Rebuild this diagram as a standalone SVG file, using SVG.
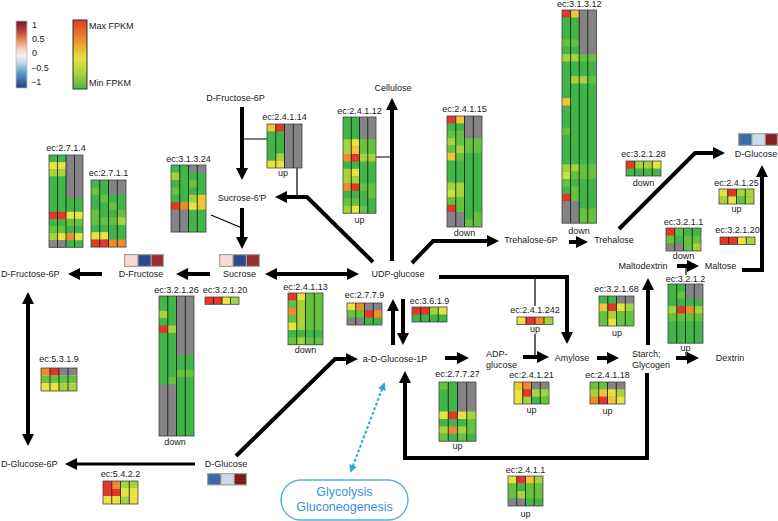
<svg xmlns="http://www.w3.org/2000/svg" width="778" height="521" viewBox="0 0 778 521">
<defs>
<linearGradient id="div" x1="0" y1="0" x2="0" y2="1">
<stop offset="0" stop-color="#6b1a20"/><stop offset="0.12" stop-color="#b2323a"/><stop offset="0.27" stop-color="#e3844d"/><stop offset="0.42" stop-color="#f6cfbf"/><stop offset="0.52" stop-color="#f4f1f0"/><stop offset="0.62" stop-color="#c6dbe9"/><stop offset="0.77" stop-color="#5f9bc8"/><stop offset="1" stop-color="#263f80"/>
</linearGradient>
<linearGradient id="fpkm" x1="0" y1="0" x2="0" y2="1">
<stop offset="0" stop-color="#e63b29"/><stop offset="0.28" stop-color="#f08a2b"/><stop offset="0.55" stop-color="#eade3c"/><stop offset="0.78" stop-color="#a9d33b"/><stop offset="1" stop-color="#45b64a"/>
</linearGradient>
<marker id="ah" viewBox="0 0 12 12" markerWidth="12" markerHeight="12" markerUnits="userSpaceOnUse" refX="3" refY="6" orient="auto-start-reverse"><path d="M0,0 L12,6 L0,12 z" fill="#000"/></marker>
<marker id="ab" viewBox="0 0 8 8" markerWidth="8" markerHeight="8" markerUnits="userSpaceOnUse" refX="6" refY="4" orient="auto-start-reverse"><path d="M0,0 L8,4 L0,8 z" fill="#2aa7df"/></marker>
</defs>
<style>
text{font-family:"Liberation Sans",Arial,sans-serif;font-size:9px;fill:#1a1a1a}
.m{text-anchor:middle}
.g{fill:#41b549}.g2{fill:#66c23e}.yg{fill:#a8d23b}.yl{fill:#cde03c}.y{fill:#e9e33f}.yo{fill:#f3c436}.o{fill:#f08a2b}.r{fill:#e5362a}.x{fill:#858385}
.sep{stroke:#111;stroke-width:0.8;fill:none}
.bd{fill:none;stroke:#444;stroke-width:0.8}
.a{fill:none;stroke:#000;stroke-width:4;marker-end:url(#ah)}
.a2{marker-start:url(#ah)}
.thin{fill:none;stroke:#000;stroke-width:1.2}
.mb{fill:#a3a3a3}
</style>

<g id="legend">
<rect x="16" y="21" width="11" height="67" fill="url(#div)" stroke="#bbb" stroke-width="0.8"/>
<text x="32" y="28.3">1</text>
<text x="32" y="42.3">0.5</text>
<text x="32" y="56.3">0</text>
<text x="31" y="71.3">−0.5</text>
<text x="31" y="85.3">−1</text>
<rect x="73" y="20" width="14" height="69" fill="url(#fpkm)" stroke="#333" stroke-width="1"/>
<text x="89" y="29">Max FPKM</text>
<text x="89" y="86">Min FPKM</text>
</g>

<g id="connectors">
<path class="a" d="M102,274 L77,274"/>
<path class="a" d="M210,274 L185,274"/>
<path class="a a2" d="M274,274 L350,274"/>
<path class="a" d="M392,261 L392,107"/>
<path class="a" d="M373,262 L307,197 L284,197"/>
<path class="a" d="M242,107 L242,171"/>
<path class="a" d="M242,208 L242,240"/>
<path class="a" d="M412,263 L433,241 L490,241"/>
<path class="a" d="M569,242 L579,242"/>
<path class="a" d="M619,229 L695,153 L716,153"/>
<path class="a" d="M439,277 L567,277 L567,335"/>
<path class="a" d="M523,357 L540,357"/>
<path class="a" d="M597,358 L610,358"/>
<path class="a" d="M648,345 L648,287"/>
<path class="a" d="M677,266 L690,266"/>
<path class="a" d="M676,358 L690,358"/>
<path class="a" d="M742,270 L762,270 L762,174"/>
<path class="a" d="M647,373 L647,458 L405,458 L405,380"/>
<path class="a" d="M236,456 L335,359 L349,359"/>
<path class="a" d="M393,345 L393,308"/>
<path class="a" d="M403,299 L403,336"/>
<path class="a" d="M445,358 L460,358"/>
<path class="a" style="stroke-width:3" d="M195,464 L74,464"/>
<path class="a a2" d="M28,301 L28,437"/>
<path class="thin" d="M242,139 H267 M297,168 V197 M376,157 H392 M211,215 L242,228 M535,277 V306 M535,334 V357 M686,266 V275 M686,352 V358"/>
<path d="M351,471 L384,384" fill="none" stroke="#2aa7df" stroke-width="2" stroke-dasharray="3,2" marker-start="url(#ab)" marker-end="url(#ab)"/>
</g>

<g id="n-fru6p-left"><text x="1" y="277">D-Fructose-6P</text></g>
<g id="n-fructose"><text class="m" x="141" y="277">D-Fructose</text>
<rect class="mb" x="124" y="254" width="40" height="13"/><rect x="125.2" y="255.2" width="12.1" height="10.6" fill="#f8d9ce"/><rect x="138.5" y="255.2" width="12.1" height="10.6" fill="#2e4a8a"/><rect x="151.8" y="255.2" width="11" height="10.6" fill="#9b2a30"/></g>
<g id="n-sucrose"><text class="m" x="239.5" y="277">Sucrose</text>
<rect class="mb" x="219" y="254" width="41" height="13"/><rect x="220.2" y="255.2" width="12.2" height="10.6" fill="#fad8cf"/><rect x="233.6" y="255.2" width="12.2" height="10.6" fill="#2c4a8a"/><rect x="247" y="255.2" width="11.8" height="10.6" fill="#9a2a31"/></g>
<g id="n-udpglucose"><text class="m" x="398" y="277">UDP-glucose</text></g>
<g id="n-sucrose6p"><text class="m" x="242" y="201">Sucrose-6'P</text></g>
<g id="n-fru6p-top"><text class="m" x="235.5" y="101">D-Fructose-6P</text></g>
<g id="n-cellulose"><text class="m" x="393" y="91">Cellulose</text></g>
<g id="n-trehalose6p"><text class="m" x="531" y="243">Trehalose-6P</text></g>
<g id="n-trehalose"><text class="m" x="614" y="243">Trehalose</text></g>
<g id="n-dglucose-right"><text class="m" x="756" y="157">D-Glucose</text>
<rect class="mb" x="738" y="133" width="40" height="13"/><rect x="739.2" y="134.2" width="12.1" height="10.6" fill="#3b6ba8"/><rect x="752.5" y="134.2" width="12.1" height="10.6" fill="#c9dcea"/><rect x="765.8" y="134.2" width="11" height="10.6" fill="#8a1d24"/></g>
<g id="n-maltodextrin"><text class="m" x="643" y="269">Maltodextrin</text></g>
<g id="n-maltose"><text class="m" x="720.5" y="269">Maltose</text></g>
<g id="n-starch"><text x="632" y="357">Starch;</text><text x="632" y="368">Glycogen</text></g>
<g id="n-dextrin"><text class="m" x="730" y="361">Dextrin</text></g>
<g id="n-amylose"><text class="m" x="572" y="361">Amylose</text></g>
<g id="n-adpglucose"><text x="486" y="357">ADP-</text><text x="486" y="368">glucose</text></g>
<g id="n-glucose1p"><text class="m" x="395" y="362">a-D-Glucose-1P</text></g>
<g id="n-dglucose-bottom"><text class="m" x="226" y="467">D-Glucose</text>
<rect class="mb" x="207" y="473" width="40" height="12.5"/><rect x="208.2" y="474.2" width="12.1" height="10.1" fill="#3a69a7"/><rect x="221.5" y="474.2" width="12.1" height="10.1" fill="#cadcea"/><rect x="234.8" y="474.2" width="11" height="10.1" fill="#7b1b20"/></g>
<g id="n-glc6p"><text x="1" y="467">D-Glucose-6P</text></g>
<g id="n-glycolysis">
<rect x="281" y="480" width="127" height="40" rx="20" fill="#fff" stroke="#5aaee6" stroke-width="1.4"/>
<text class="m" x="344.5" y="496" style="font-size:12.5px;fill:#3d8fd8">Glycolysis</text>
<text class="m" x="344.5" y="511" style="font-size:12.5px;fill:#3d8fd8">Gluconeogenesis</text>
</g>

<g id="ec-2-7-1-4"><text class="m" x="66" y="151">ec:2.7.1.4</text>
<rect class="g" x="49" y="155" width="34" height="92.3"/>
<rect class="y" x="49" y="162.1" width="17" height="7.1"/>
<rect class="yg" x="49" y="169.2" width="17" height="7.1"/>
<rect class="r" x="49" y="211.8" width="17" height="7.1"/>
<rect class="g2" x="49" y="226" width="17" height="7.1"/>
<rect class="yg" x="49" y="233.1" width="8.5" height="7.1"/>
<rect class="y" x="57.5" y="233.1" width="8.5" height="7.1"/>
<rect class="x" x="49" y="240.2" width="17" height="7.1"/>
<rect class="x" x="66" y="155" width="17" height="42.6"/>
<rect class="y" x="66" y="211.8" width="17" height="7.1"/>
<rect class="g2" x="66" y="218.9" width="17" height="7.1"/>
<rect class="o" x="66" y="233.1" width="8.5" height="7.1"/>
<rect class="y" x="74.5" y="233.1" width="8.5" height="7.1"/>
<path class="sep" d="M57.5,155v92.3M66,155v92.3M74.5,155v92.3"/>
<rect class="bd" x="49" y="155" width="34" height="92.3"/></g>

<g id="ec-2-7-1-1"><text class="m" x="108.5" y="176">ec:2.7.1.1</text>
<rect class="g" x="91" y="180" width="35" height="67.05"/>
<rect class="g2" x="91" y="187.45" width="8.75" height="7.45"/>
<rect class="g2" x="91" y="209.8" width="8.75" height="7.45"/>
<rect class="g2" x="91" y="217.25" width="35" height="7.45"/>
<rect class="g2" x="99.75" y="194.9" width="8.75" height="7.45"/>
<rect class="y" x="91" y="232.15" width="17.5" height="7.45"/>
<rect class="r" x="91" y="239.6" width="17.5" height="7.45"/>
<rect class="x" x="108.5" y="180" width="17.5" height="14.9"/>
<rect class="g2" x="108.5" y="202.35" width="8.75" height="7.45"/>
<rect class="g2" x="117.25" y="209.8" width="8.75" height="7.45"/>
<rect class="yg" x="117.25" y="217.25" width="8.75" height="7.45"/>
<rect class="o" x="108.5" y="239.6" width="17.5" height="7.45"/>
<path class="sep" d="M99.75,180v67.05M108.5,180v67.05M117.25,180v67.05"/>
<rect class="bd" x="91" y="180" width="35" height="67.05"/></g>

<g id="ec-3-1-3-24"><text class="m" x="188.5" y="162">ec:3.1.3.24</text>
<rect class="g" x="171" y="165" width="35" height="67.05"/>
<rect class="yg" x="171" y="172.45" width="8.75" height="7.45"/>
<rect class="g2" x="171" y="187.35" width="8.75" height="7.45"/>
<rect class="r" x="171" y="202.25" width="8.75" height="7.45"/>
<rect class="o" x="179.75" y="202.25" width="8.75" height="7.45"/>
<rect class="x" x="171" y="209.7" width="17.5" height="22.35"/>
<rect class="x" x="188.5" y="165" width="17.5" height="7.45"/>
<rect class="g2" x="188.5" y="179.9" width="8.75" height="7.45"/>
<rect class="yg" x="188.5" y="194.8" width="8.75" height="7.45"/>
<rect class="y" x="188.5" y="202.25" width="8.75" height="7.45"/>
<rect class="yo" x="197.25" y="194.8" width="8.75" height="14.9"/>
<path class="sep" d="M179.75,165v67.05M188.5,165v67.05M197.25,165v67.05"/>
<rect class="bd" x="171" y="165" width="35" height="67.05"/></g>

<g id="ec-2-4-1-14"><text class="m" x="284.5" y="120">ec:2.4.1.14</text>
<rect class="g" x="267" y="124" width="35" height="44"/>
<rect class="yo" x="267" y="124" width="8.75" height="7.33"/>
<rect class="r" x="275.75" y="124" width="8.75" height="7.33"/>
<rect class="yg" x="275.75" y="153.33" width="8.75" height="7.33"/>
<rect class="y" x="267" y="160.67" width="17.5" height="7.33"/>
<rect class="x" x="284.5" y="124" width="17.5" height="44"/>
<path class="sep" d="M275.75,124v44M284.5,124v44M293.25,124v44"/>
<rect class="bd" x="267" y="124" width="35" height="44"/>
<text class="m" x="283" y="176">up</text></g>

<g id="ec-2-4-1-12"><text class="m" x="359.5" y="114">ec:2.4.1.12</text>
<rect class="g" x="343" y="117" width="33" height="96.2"/>
<rect class="yg" x="343" y="139.2" width="8.25" height="14.8"/>
<rect class="y" x="351.25" y="139.2" width="8.25" height="7.4"/>
<rect class="yo" x="351.25" y="146.6" width="8.25" height="7.4"/>
<rect class="o" x="343" y="154" width="8.25" height="7.4"/>
<rect class="r" x="351.25" y="154" width="8.25" height="7.4"/>
<rect class="yg" x="343" y="168.8" width="8.25" height="14.8"/>
<rect class="y" x="351.25" y="168.8" width="8.25" height="7.4"/>
<rect class="yg" x="351.25" y="176.2" width="8.25" height="7.4"/>
<rect class="o" x="343" y="183.6" width="8.25" height="7.4"/>
<rect class="r" x="351.25" y="183.6" width="8.25" height="7.4"/>
<rect class="g2" x="343" y="198.4" width="16.5" height="7.4"/>
<rect class="yg" x="343" y="205.8" width="8.25" height="7.4"/>
<rect class="y" x="351.25" y="205.8" width="8.25" height="7.4"/>
<rect class="x" x="359.5" y="117" width="16.5" height="22.2"/>
<rect class="g2" x="359.5" y="139.2" width="16.5" height="14.8"/>
<rect class="yg" x="359.5" y="154" width="16.5" height="7.4"/>
<rect class="g2" x="359.5" y="183.6" width="16.5" height="7.4"/>
<rect class="g2" x="367.75" y="191" width="8.25" height="7.4"/>
<rect class="g2" x="359.5" y="205.8" width="8.25" height="7.4"/>
<path class="sep" d="M351.25,117v96.2M359.5,117v96.2M367.75,117v96.2"/>
<rect class="bd" x="343" y="117" width="33" height="96.2"/>
<text class="m" x="359.5" y="223">up</text></g>

<g id="ec-2-4-1-15"><text class="m" x="464.5" y="112">ec:2.4.1.15</text>
<rect class="g" x="447" y="116" width="35" height="111"/>
<rect class="r" x="447" y="116" width="8.75" height="7.4"/>
<rect class="yo" x="455.75" y="116" width="8.75" height="7.4"/>
<rect class="g2" x="447" y="130.8" width="17.5" height="7.4"/>
<rect class="yg" x="447" y="138.2" width="8.75" height="7.4"/>
<rect class="g2" x="455.75" y="138.2" width="8.75" height="7.4"/>
<rect class="g2" x="447" y="145.6" width="8.75" height="7.4"/>
<rect class="yg" x="455.75" y="145.6" width="8.75" height="7.4"/>
<rect class="yo" x="447" y="153" width="8.75" height="7.4"/>
<rect class="g2" x="455.75" y="153" width="8.75" height="7.4"/>
<rect class="yg" x="447" y="182.6" width="17.5" height="7.4"/>
<rect class="yl" x="447" y="190" width="8.75" height="7.4"/>
<rect class="yg" x="455.75" y="190" width="8.75" height="7.4"/>
<rect class="g2" x="447" y="197.4" width="17.5" height="7.4"/>
<rect class="r" x="447" y="204.8" width="8.75" height="7.4"/>
<rect class="g2" x="455.75" y="204.8" width="8.75" height="7.4"/>
<rect class="x" x="447" y="212.2" width="17.5" height="14.8"/>
<rect class="x" x="464.5" y="116" width="17.5" height="22.2"/>
<rect class="g2" x="464.5" y="138.2" width="17.5" height="14.8"/>
<rect class="g2" x="464.5" y="219.6" width="17.5" height="7.4"/>
<rect class="g2" x="473.25" y="212.2" width="8.75" height="7.4"/>
<path class="sep" d="M455.75,116v111M464.5,116v111M473.25,116v111"/>
<rect class="bd" x="447" y="116" width="35" height="111"/>
<text class="m" x="464.5" y="236">down</text></g>

<g id="ec-3-1-3-12"><text class="m" x="579.2" y="7">ec:3.1.3.12</text>
<rect class="g" x="562" y="10" width="34.4" height="213.15"/>
<rect class="r" x="562" y="10" width="8.6" height="7.35"/>
<rect class="yo" x="570.6" y="10" width="8.6" height="7.35"/>
<rect class="g2" x="562" y="39.4" width="17.2" height="7.35"/>
<rect class="yg" x="562" y="54.1" width="17.2" height="7.35"/>
<rect class="g2" x="579.2" y="54.1" width="17.2" height="7.35"/>
<rect class="yg" x="570.6" y="76.15" width="17.2" height="7.35"/>
<rect class="g2" x="587.8" y="76.15" width="8.6" height="7.35"/>
<rect class="yo" x="562" y="98.2" width="8.6" height="7.35"/>
<rect class="g2" x="562" y="127.6" width="8.6" height="7.35"/>
<rect class="yg" x="562" y="164.35" width="17.2" height="7.35"/>
<rect class="yl" x="562" y="171.7" width="8.6" height="7.35"/>
<rect class="g2" x="570.6" y="171.7" width="8.6" height="7.35"/>
<rect class="g2" x="579.2" y="164.35" width="17.2" height="14.7"/>
<rect class="g2" x="562" y="179.05" width="8.6" height="7.35"/>
<rect class="g2" x="570.6" y="186.4" width="8.6" height="14.7"/>
<rect class="r" x="562" y="193.75" width="8.6" height="7.35"/>
<rect class="x" x="562" y="201.1" width="17.2" height="22.05"/>
<rect class="x" x="579.2" y="10" width="17.2" height="44.1"/>
<rect class="g2" x="579.2" y="208.45" width="17.2" height="14.7"/>
<path class="sep" d="M570.6,10v213.15M579.2,10v213.15M587.8,10v213.15"/>
<rect class="bd" x="562" y="10" width="34.4" height="213.15"/>
<text class="m" x="579" y="234">down</text></g>

<g id="ec-3-2-1-28"><text class="m" x="643.5" y="157">ec:3.2.1.28</text>
<rect class="g" x="626" y="161" width="35" height="15"/>
<rect class="r" x="626" y="161" width="8.75" height="7.5"/>
<rect class="yg" x="634.75" y="161" width="17.5" height="7.5"/>
<rect class="y" x="652.25" y="161" width="8.75" height="7.5"/>
<path class="sep" d="M634.75,161v15M643.5,161v15M652.25,161v15"/>
<rect class="bd" x="626" y="161" width="35" height="15"/>
<text class="m" x="643.5" y="186">down</text></g>

<g id="ec-2-4-1-25"><text class="m" x="736.5" y="186">ec:2.4.1.25</text>
<rect class="g" x="719" y="189" width="35" height="15"/>
<rect class="y" x="719" y="189" width="8.75" height="7.5"/>
<rect class="r" x="727.75" y="189" width="8.75" height="7.5"/>
<rect class="yg" x="736.5" y="189" width="17.5" height="7.5"/>
<rect class="yg" x="719" y="196.5" width="8.75" height="7.5"/>
<rect class="y" x="727.75" y="196.5" width="8.75" height="7.5"/>
<rect class="g2" x="736.5" y="196.5" width="8.75" height="7.5"/>
<rect class="yg" x="745.25" y="196.5" width="8.75" height="7.5"/>
<path class="sep" d="M727.75,189v15M736.5,189v15M745.25,189v15"/>
<rect class="bd" x="719" y="189" width="35" height="15"/>
<text class="m" x="736.5" y="212">up</text></g>

<g id="ec-3-2-1-20-right"><text class="m" x="737.5" y="233">ec:3.2.1.20</text>
<rect class="r" x="720" y="237" width="17.5" height="7.5"/>
<rect class="y" x="737.5" y="237" width="8.75" height="7.5"/>
<rect class="yg" x="746.25" y="237" width="8.75" height="7.5"/>
<path class="sep" d="M728.75,237v7.5M737.5,237v7.5M746.25,237v7.5"/>
<rect class="bd" x="720" y="237" width="35" height="7.5"/></g>

<g id="ec-3-2-1-1"><text class="m" x="683.5" y="225">ec:3.2.1.1</text>
<rect class="g" x="666" y="228" width="35" height="23"/>
<rect class="r" x="666" y="228" width="8.75" height="7.67"/>
<rect class="g2" x="674.75" y="228" width="8.75" height="7.67"/>
<rect class="g2" x="666" y="235.67" width="8.75" height="7.67"/>
<rect class="g2" x="683.5" y="235.67" width="17.5" height="7.67"/>
<rect class="x" x="666" y="243.33" width="17.5" height="7.67"/>
<rect class="g2" x="683.5" y="243.33" width="8.75" height="7.67"/>
<rect class="yg" x="692.25" y="243.33" width="8.75" height="7.67"/>
<path class="sep" d="M674.75,228v23M683.5,228v23M692.25,228v23"/>
<rect class="bd" x="666" y="228" width="35" height="23"/>
<text class="m" x="683.5" y="259">down</text></g>

<g id="ec-3-2-1-2"><text class="m" x="685.5" y="282">ec:3.2.1.2</text>
<rect class="g" x="668" y="284" width="35" height="59.2"/>
<rect class="x" x="685.5" y="284" width="17.5" height="14.8"/>
<rect class="g2" x="676.75" y="291.4" width="8.75" height="7.4"/>
<rect class="yg" x="668" y="306.2" width="8.75" height="7.4"/>
<rect class="r" x="676.75" y="306.2" width="8.75" height="7.4"/>
<rect class="o" x="685.5" y="306.2" width="8.75" height="7.4"/>
<rect class="yg" x="694.25" y="306.2" width="8.75" height="7.4"/>
<rect class="g2" x="668" y="313.6" width="35" height="7.4"/>
<path class="sep" d="M676.75,284v59.2M685.5,284v59.2M694.25,284v59.2"/>
<rect class="bd" x="668" y="284" width="35" height="59.2"/>
<text class="m" x="685.5" y="351">up</text></g>

<g id="ec-3-2-1-68"><text class="m" x="616.5" y="292">ec:3.2.1.68</text>
<rect class="g" x="599" y="296" width="35" height="30"/>
<rect class="x" x="616.5" y="296" width="17.5" height="7.5"/>
<rect class="yo" x="599" y="303.5" width="8.75" height="7.5"/>
<rect class="r" x="607.75" y="303.5" width="8.75" height="7.5"/>
<rect class="y" x="616.5" y="303.5" width="8.75" height="7.5"/>
<rect class="yg" x="625.25" y="303.5" width="8.75" height="7.5"/>
<rect class="g2" x="599" y="311" width="35" height="15"/>
<rect class="yg" x="607.75" y="311" width="8.75" height="7.5"/>
<rect class="y" x="607.75" y="318.5" width="8.75" height="7.5"/>
<path class="sep" d="M607.75,296v30M616.5,296v30M625.25,296v30"/>
<rect class="bd" x="599" y="296" width="35" height="30"/>
<text class="m" x="617" y="336">up</text></g>

<g id="ec-2-4-1-242"><text class="m" x="535" y="313">ec:2.4.1.242</text>
<rect class="y" x="517" y="317" width="9" height="7.5"/>
<rect class="r" x="526" y="317" width="9" height="7.5"/>
<rect class="o" x="535" y="317" width="9" height="7.5"/>
<rect class="yg" x="544" y="317" width="9" height="7.5"/>
<path class="sep" d="M526,317v7.5M535,317v7.5M544,317v7.5"/>
<rect class="bd" x="517" y="317" width="36" height="7.5"/>
<text class="m" x="535" y="332">up</text></g>

<g id="ec-2-4-1-21"><text class="m" x="531.5" y="378">ec:2.4.1.21</text>
<rect class="g" x="514" y="382" width="35" height="22"/>
<rect class="yo" x="514" y="382" width="8.75" height="7.33"/>
<rect class="o" x="522.75" y="382" width="8.75" height="7.33"/>
<rect class="x" x="531.5" y="382" width="17.5" height="7.33"/>
<rect class="y" x="514" y="389.33" width="8.75" height="14.67"/>
<rect class="r" x="522.75" y="389.33" width="8.75" height="7.33"/>
<rect class="yg" x="531.5" y="389.33" width="17.5" height="7.33"/>
<rect class="yg" x="522.75" y="396.67" width="8.75" height="7.33"/>
<rect class="g2" x="540.25" y="396.67" width="8.75" height="7.33"/>
<path class="sep" d="M522.75,382v22M531.5,382v22M540.25,382v22"/>
<rect class="bd" x="514" y="382" width="35" height="22"/>
<text class="m" x="531.5" y="413">up</text></g>

<g id="ec-2-4-1-18"><text class="m" x="607.5" y="378">ec:2.4.1.18</text>
<rect class="g2" x="590" y="382" width="35" height="22"/>
<rect class="x" x="607.5" y="382" width="17.5" height="7.33"/>
<rect class="yg" x="590" y="389.33" width="8.75" height="7.33"/>
<rect class="yo" x="598.75" y="389.33" width="8.75" height="7.33"/>
<rect class="y" x="607.5" y="389.33" width="8.75" height="7.33"/>
<rect class="yg" x="616.25" y="389.33" width="8.75" height="7.33"/>
<rect class="o" x="590" y="396.67" width="8.75" height="7.33"/>
<rect class="r" x="598.75" y="396.67" width="8.75" height="7.33"/>
<rect class="yo" x="607.5" y="396.67" width="8.75" height="7.33"/>
<rect class="y" x="616.25" y="396.67" width="8.75" height="7.33"/>
<path class="sep" d="M598.75,382v22M607.5,382v22M616.25,382v22"/>
<rect class="bd" x="590" y="382" width="35" height="22"/>
<text class="m" x="607.5" y="414">up</text></g>

<g id="ec-2-4-1-1"><text class="m" x="525.5" y="473">ec:2.4.1.1</text>
<rect class="g" x="508" y="476" width="35" height="30"/>
<rect class="y" x="508" y="476" width="8.75" height="7.5"/>
<rect class="r" x="516.75" y="476" width="8.75" height="7.5"/>
<rect class="yo" x="525.5" y="476" width="8.75" height="7.5"/>
<rect class="yg" x="534.25" y="476" width="8.75" height="7.5"/>
<rect class="g2" x="508" y="483.5" width="35" height="15"/>
<rect class="g" x="516.75" y="483.5" width="8.75" height="7.5"/>
<rect class="yg" x="516.75" y="491" width="8.75" height="7.5"/>
<rect class="x" x="508" y="498.5" width="17.5" height="7.5"/>
<path class="sep" d="M516.75,476v30M525.5,476v30M534.25,476v30"/>
<rect class="bd" x="508" y="476" width="35" height="30"/>
<text class="m" x="525.5" y="517">up</text></g>

<g id="ec-2-7-7-27"><text class="m" x="457.5" y="377">ec:2.7.7.27</text>
<rect class="g" x="439" y="382" width="37" height="59.2"/>
<rect class="g2" x="439" y="382" width="9.25" height="7.4"/>
<rect class="x" x="457.5" y="382" width="18.5" height="29.6"/>
<rect class="y" x="439" y="411.6" width="9.25" height="7.4"/>
<rect class="r" x="448.25" y="411.6" width="9.25" height="7.4"/>
<rect class="y" x="457.5" y="411.6" width="9.25" height="7.4"/>
<rect class="yg" x="466.75" y="411.6" width="9.25" height="7.4"/>
<rect class="g2" x="466.75" y="419" width="9.25" height="14.8"/>
<rect class="yg" x="439" y="426.4" width="9.25" height="7.4"/>
<rect class="o" x="448.25" y="426.4" width="9.25" height="7.4"/>
<rect class="yg" x="457.5" y="426.4" width="9.25" height="7.4"/>
<rect class="g2" x="439" y="433.8" width="9.25" height="7.4"/>
<rect class="g2" x="457.5" y="433.8" width="9.25" height="7.4"/>
<path class="sep" d="M448.25,382v59.2M457.5,382v59.2M466.75,382v59.2"/>
<rect class="bd" x="439" y="382" width="37" height="59.2"/>
<text class="m" x="457.5" y="449">up</text></g>

<g id="ec-2-7-7-9"><text class="m" x="364.5" y="298">ec:2.7.7.9</text>
<rect class="g" x="347" y="303" width="35" height="22"/>
<rect class="y" x="347" y="303" width="8.75" height="7.33"/>
<rect class="o" x="355.75" y="303" width="8.75" height="7.33"/>
<rect class="x" x="364.5" y="303" width="17.5" height="7.33"/>
<rect class="g2" x="347" y="310.33" width="17.5" height="7.33"/>
<rect class="r" x="364.5" y="310.33" width="8.75" height="7.33"/>
<rect class="o" x="373.25" y="310.33" width="8.75" height="7.33"/>
<rect class="x" x="347" y="317.67" width="17.5" height="7.33"/>
<path class="sep" d="M355.75,303v22M364.5,303v22M373.25,303v22"/>
<rect class="bd" x="347" y="303" width="35" height="22"/></g>

<g id="ec-3-6-1-9"><text class="m" x="429.5" y="304">ec:3.6.1.9</text>
<rect class="g" x="412" y="307" width="35" height="15"/>
<rect class="r" x="412" y="307" width="17.5" height="7.5"/>
<rect class="yg" x="429.5" y="307" width="8.75" height="7.5"/>
<rect class="y" x="438.25" y="307" width="8.75" height="7.5"/>
<path class="sep" d="M420.75,307v15M429.5,307v15M438.25,307v15"/>
<rect class="bd" x="412" y="307" width="35" height="15"/></g>

<g id="ec-2-4-1-13"><text class="m" x="305.5" y="290">ec:2.4.1.13</text>
<rect class="g" x="288" y="293" width="35" height="51.8"/>
<rect class="g2" x="305.5" y="293" width="17.5" height="37"/>
<rect class="g2" x="305.5" y="337.4" width="17.5" height="7.4"/>
<rect class="r" x="288" y="293" width="8.75" height="7.4"/>
<rect class="g2" x="288" y="300.4" width="8.75" height="7.4"/>
<rect class="o" x="288" y="307.8" width="8.75" height="7.4"/>
<rect class="g2" x="288" y="315.2" width="8.75" height="7.4"/>
<rect class="y" x="288" y="322.6" width="8.75" height="7.4"/>
<rect class="g2" x="288" y="337.4" width="8.75" height="7.4"/>
<rect class="y" x="296.75" y="293" width="8.75" height="7.4"/>
<rect class="yg" x="296.75" y="300.4" width="8.75" height="29.6"/>
<rect class="yg" x="296.75" y="337.4" width="8.75" height="7.4"/>
<path class="sep" d="M296.75,293v51.8M305.5,293v51.8M314.25,293v51.8"/>
<rect class="bd" x="288" y="293" width="35" height="51.8"/>
<text class="m" x="305.5" y="353">down</text></g>

<g id="ec-3-2-1-26"><text class="m" x="176.5" y="293">ec:3.2.1.26</text>
<rect class="g" x="159" y="296" width="35" height="140.03"/>
<rect class="yg" x="159" y="310.74" width="8.75" height="7.37"/>
<rect class="r" x="159" y="325.48" width="8.75" height="7.37"/>
<rect class="yg" x="167.75" y="325.48" width="8.75" height="7.37"/>
<rect class="g2" x="167.75" y="377.07" width="8.75" height="7.37"/>
<rect class="x" x="159" y="384.44" width="17.5" height="51.59"/>
<rect class="x" x="176.5" y="296" width="17.5" height="58.96"/>
<rect class="g2" x="176.5" y="369.7" width="17.5" height="7.37"/>
<path class="sep" d="M167.75,296v140.03M176.5,296v140.03M185.25,296v140.03"/>
<rect class="bd" x="159" y="296" width="35" height="140.03"/>
<text class="m" x="175" y="445">down</text></g>

<g id="ec-3-2-1-20-left"><text class="m" x="225" y="293">ec:3.2.1.20</text>
<rect class="r" x="205" y="297" width="17" height="7.3"/>
<rect class="y" x="222" y="297" width="8.5" height="7.3"/>
<rect class="yg" x="230.5" y="297" width="8.5" height="7.3"/>
<path class="sep" d="M213.5,297v7.3M222,297v7.3M230.5,297v7.3"/>
<rect class="bd" x="205" y="297" width="34" height="7.3"/></g>

<g id="ec-5-3-1-9"><text class="m" x="59" y="362">ec:5.3.1.9</text>
<rect class="o" x="41" y="368" width="9" height="7.67"/>
<rect class="r" x="50" y="368" width="9" height="7.67"/>
<rect class="x" x="59" y="368" width="18" height="7.67"/>
<rect class="g2" x="41" y="375.67" width="36" height="7.67"/>
<rect class="y" x="41" y="383.33" width="18" height="7.67"/>
<rect class="yg" x="59" y="383.33" width="18" height="7.67"/>
<path class="sep" d="M50,368v23M59,368v23M68,368v23"/>
<rect class="bd" x="41" y="368" width="36" height="23"/></g>

<g id="ec-5-4-2-2"><text class="m" x="120.5" y="477">ec:5.4.2.2</text>
<rect class="r" x="103" y="481" width="8.75" height="15.33"/>
<rect class="o" x="111.75" y="481" width="8.75" height="7.67"/>
<rect class="r" x="111.75" y="488.67" width="8.75" height="7.67"/>
<rect class="yg" x="120.5" y="481" width="17.5" height="7.67"/>
<rect class="y" x="120.5" y="488.67" width="17.5" height="7.67"/>
<rect class="y" x="103" y="496.33" width="17.5" height="7.67"/>
<rect class="yg" x="120.5" y="496.33" width="8.75" height="7.67"/>
<rect class="y" x="129.25" y="496.33" width="8.75" height="7.67"/>
<path class="sep" d="M111.75,481v23M120.5,481v23M129.25,481v23"/>
<rect class="bd" x="103" y="481" width="35" height="23"/></g>
</svg>
